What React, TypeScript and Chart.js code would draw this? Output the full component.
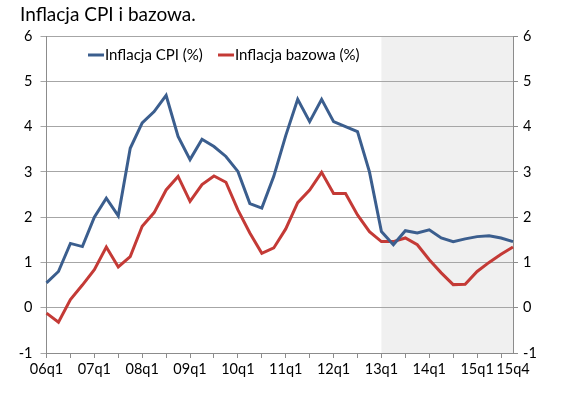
import { useEffect, useRef } from 'react';
import { Chart, registerables } from 'chart.js';

Chart.register(...registerables);

const quarters = [
  '06q1', '06q2', '06q3', '06q4', '07q1', '07q2', '07q3', '07q4',
  '08q1', '08q2', '08q3', '08q4', '09q1', '09q2', '09q3', '09q4',
  '10q1', '10q2', '10q3', '10q4', '11q1', '11q2', '11q3', '11q4',
  '12q1', '12q2', '12q3', '12q4', '13q1', '13q2', '13q3', '13q4',
  '14q1', '14q2', '14q3', '14q4', '15q1', '15q2', '15q3', '15q4',
];

const cpi = [
  0.55, 0.8, 1.42, 1.35, 2.0, 2.42, 2.03, 3.52,
  4.08, 4.33, 4.69, 3.78, 3.27, 3.72, 3.56, 3.34,
  3.01, 2.3, 2.2, 2.9, 3.8, 4.6, 4.11, 4.6,
  4.11, 4.0, 3.89, 3.0, 1.68, 1.39, 1.7, 1.65,
  1.72, 1.54, 1.46, 1.52, 1.57, 1.59, 1.54, 1.46,
];

const core = [
  -0.12, -0.32, 0.18, 0.5, 0.84, 1.34, 0.9, 1.13,
  1.8, 2.1, 2.6, 2.9, 2.35, 2.72, 2.91, 2.77,
  2.16, 1.65, 1.2, 1.32, 1.74, 2.32, 2.6, 2.99,
  2.52, 2.52, 2.05, 1.68, 1.46, 1.46, 1.54, 1.39,
  1.06, 0.77, 0.51, 0.52, 0.8, 1.0, 1.18, 1.34,
];

const seriesNames = ['Inflacja CPI (%)', 'Inflacja bazowa (%)'];
const chartTitle = 'Inflacja CPI i bazowa.';
const forecastStart = '13q1';
const yMin = -1;
const yMax = 6;

const BLUE = '#3b5e8e';
const RED = '#c43a36';
const FONT = 'Lato, "Open Sans", sans-serif';

export default function App() {
  const ref = useRef<HTMLCanvasElement>(null);

  useEffect(() => {
    document.body.style.margin = '0';
    const canvas = ref.current;
    if (!canvas) return;

    const shade = {
      id: 'shade',
      beforeDraw(chart: any) {
        const { ctx, chartArea, scales } = chart;
        const x0 = scales.x.getPixelForValue(quarters.indexOf(forecastStart));
        ctx.save();
        ctx.fillStyle = '#f0f0f0';
        ctx.fillRect(x0, chartArea.top, chartArea.right - x0, chartArea.bottom - chartArea.top);
        ctx.restore();
      },
    };

    const titleLegend = {
      id: 'titleLegend',
      afterDraw(chart: any) {
        const { ctx } = chart;
        ctx.save();
        ctx.fillStyle = '#000';
        ctx.font = `19px ${FONT}`;
        ctx.textBaseline = 'alphabetic';
        ctx.textAlign = 'left';
        ctx.fillText(chartTitle, 20, 21);

        ctx.font = `15px ${FONT}`;
        ctx.textBaseline = 'middle';
        const items = [
          { x: 88, color: BLUE, text: seriesNames[0] },
          { x: 218, color: RED, text: seriesNames[1] },
        ];
        const ly = 55;
        for (const it of items) {
          ctx.strokeStyle = it.color;
          ctx.lineWidth = 3;
          ctx.beginPath();
          ctx.moveTo(it.x, ly);
          ctx.lineTo(it.x + 16, ly);
          ctx.stroke();
          ctx.fillStyle = '#000';
          ctx.fillText(it.text, it.x + 17, ly);
        }
        ctx.restore();
      },
    };

    const chart = new Chart(canvas, {
      type: 'line',
      data: {
        labels: quarters,
        datasets: [
          {
            label: seriesNames[0],
            data: cpi,
            borderColor: BLUE,
            backgroundColor: BLUE,
            borderWidth: 3,
            pointRadius: 0,
            tension: 0,
            yAxisID: 'y',
          },
          {
            label: seriesNames[1],
            data: core,
            borderColor: RED,
            backgroundColor: RED,
            borderWidth: 3,
            pointRadius: 0,
            tension: 0,
            yAxisID: 'y',
          },
        ],
      },
      options: {
        animation: false,
        responsive: false,
        devicePixelRatio: 1,
        layout: { padding: { top: 36, bottom: 10, left: 0, right: 0 } },
        plugins: {
          legend: { display: false },
          title: { display: false },
          tooltip: { enabled: false },
        },
        scales: {
          x: {
            type: 'category',
            offset: false,
            grid: {
              drawOnChartArea: false,
              drawTicks: true,
              tickLength: 5,
              color: (c: any) => (c.index % 2 === 0 ? '#8c8c8c' : 'rgba(0,0,0,0)'),
            },
            border: { color: '#8c8c8c' },
            ticks: {
              autoSkip: false,
              maxRotation: 0,
              minRotation: 0,
              padding: 3,
              color: '#000',
              font: { family: FONT, size: 14.5 },
              callback: (_v: any, i: number) =>
                quarters[i].endsWith('q1') || i === quarters.length - 1 ? quarters[i] : '',
            },
            afterFit: (s: any) => {
              s.height = 30;
            },
          },
          y: {
            position: 'left',
            min: yMin,
            max: yMax,
            grid: { color: '#a6a6a6', tickLength: 6 },
            border: { color: '#8c8c8c' },
            ticks: {
              stepSize: 1,
              padding: 8,
              color: '#000',
              font: { family: FONT, size: 14.5 },
            },
            afterFit: (s: any) => {
              s.width = 46.5;
            },
          },
          y2: {
            display: true,
            position: 'right',
            min: yMin,
            max: yMax,
            grid: { drawOnChartArea: false, color: '#8c8c8c', tickLength: 5 },
            border: { color: '#8c8c8c' },
            ticks: {
              stepSize: 1,
              padding: 5,
              color: '#000',
              font: { family: FONT, size: 14.5 },
            },
            afterFit: (s: any) => {
              s.width = 56;
            },
          },
        },
      },
      plugins: [shade, titleLegend],
    } as any);

    return () => chart.destroy();
  }, []);

  return (
    <div style={{ width: 569, height: 393 }}>
      <canvas ref={ref} width={569} height={393} style={{ display: 'block' }} />
    </div>
  );
}
